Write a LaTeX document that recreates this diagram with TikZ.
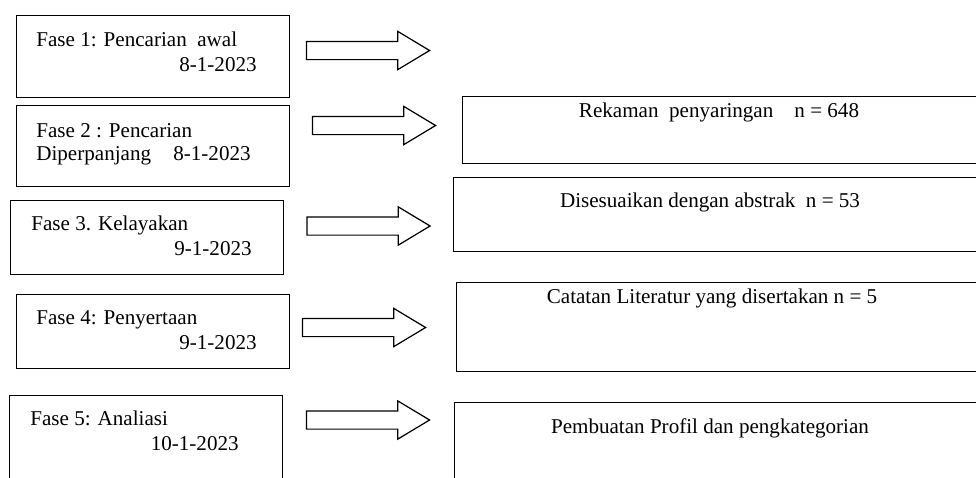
\documentclass[tikz,border=0pt]{standalone}
\usepackage{fontspec}
\setmainfont{Liberation Serif}
\usetikzlibrary{shapes.arrows}
\newcommand{\pxu}{0.02cm}

\begin{document}
\begin{tikzpicture}[x=0.02cm,y=-0.02cm,
  box/.style={draw,line width=0.7pt,rectangle,inner sep=0pt,anchor=north west},
  blk/.style={draw,line width=0.7pt,single arrow,inner xsep=0pt,inner ysep=8.5*\pxu,
    minimum height=123*\pxu,minimum width=37*\pxu,
    single arrow head extend=10*\pxu,single arrow tip angle=62},
  txt/.style={font=\fontsize{12}{14}\selectfont,inner sep=0pt}]
  \useasboundingbox (0,0) rectangle (976,477);
  \clip (0,0) rectangle (976,477);

  % Phase boxes
  \node[box,minimum width=273*\pxu,minimum height=82*\pxu] (fase1) at (16,15) {};
  \node[box,minimum width=273*\pxu,minimum height=81*\pxu] (fase2) at (16,105) {};
  \node[box,minimum width=273*\pxu,minimum height=74*\pxu] (fase3) at (10,200) {};
  \node[box,minimum width=273*\pxu,minimum height=74*\pxu] (fase4) at (16,294) {};
  \node[box,minimum width=273*\pxu,minimum height=100*\pxu] (fase5) at (9,395) {};

  % Result boxes (run off the right edge)
  \node[box,minimum width=700*\pxu,minimum height=67*\pxu] (hasil2) at (462,96) {};
  \node[box,minimum width=700*\pxu,minimum height=74*\pxu] (hasil3) at (453,177) {};
  \node[box,minimum width=700*\pxu,minimum height=89*\pxu] (hasil4) at (456,282) {};
  \node[box,minimum width=700*\pxu,minimum height=100*\pxu] (hasil5) at (454,402) {};

  % Arrows
  \node[blk] (panah1) at (360.5,50.5) {};
  \node[blk] (panah2) at (366.5,125.5) {};
  \node[blk] (panah3) at (361,226) {};
  \node[blk] (panah4) at (356.5,327.5) {};
  \node[blk] (panah5) at (360.5,420) {};

  % Labels
  \node[txt,anchor=base west] (lbl1a) at (36,46) {Fase 1: Pencarian\ \ awal};
  \node[txt,anchor=base east] (lbl1b) at (257,71) {8-1-2023};
  \node[txt,anchor=base west] (lbl2a) at (36,137) {Fase 2 : Pencarian};
  \node[txt,anchor=base west] (lbl2b) at (36,160) {Diperpanjang};
  \node[txt,anchor=base east] (lbl2c) at (251,160) {8-1-2023};
  \node[txt,anchor=base west] (lbl3a) at (31,230) {Fase 3. Kelayakan};
  \node[txt,anchor=base east] (lbl3b) at (252,255) {9-1-2023};
  \node[txt,anchor=base west] (lbl4a) at (36,324) {Fase 4: Penyertaan};
  \node[txt,anchor=base east] (lbl4b) at (257,349) {9-1-2023};
  \node[txt,anchor=base west] (lbl5a) at (30,425) {Fase 5: Analiasi};
  \node[txt,anchor=base east] (lbl5b) at (239,450) {10-1-2023};

  \node[txt,anchor=base] (lbl6) at (719,117) {Rekaman\ \ penyaringan\ \ \ \ n = 648};
  \node[txt,anchor=base] (lbl7) at (710,207) {Disesuaikan dengan abstrak\ \ n = 53};
  \node[txt,anchor=base] (lbl8) at (712,303) {Catatan Literatur yang disertakan n = 5};
  \node[txt,anchor=base] (lbl9) at (710,433) {Pembuatan Profil dan pengkategorian};

\end{tikzpicture}
\end{document}
